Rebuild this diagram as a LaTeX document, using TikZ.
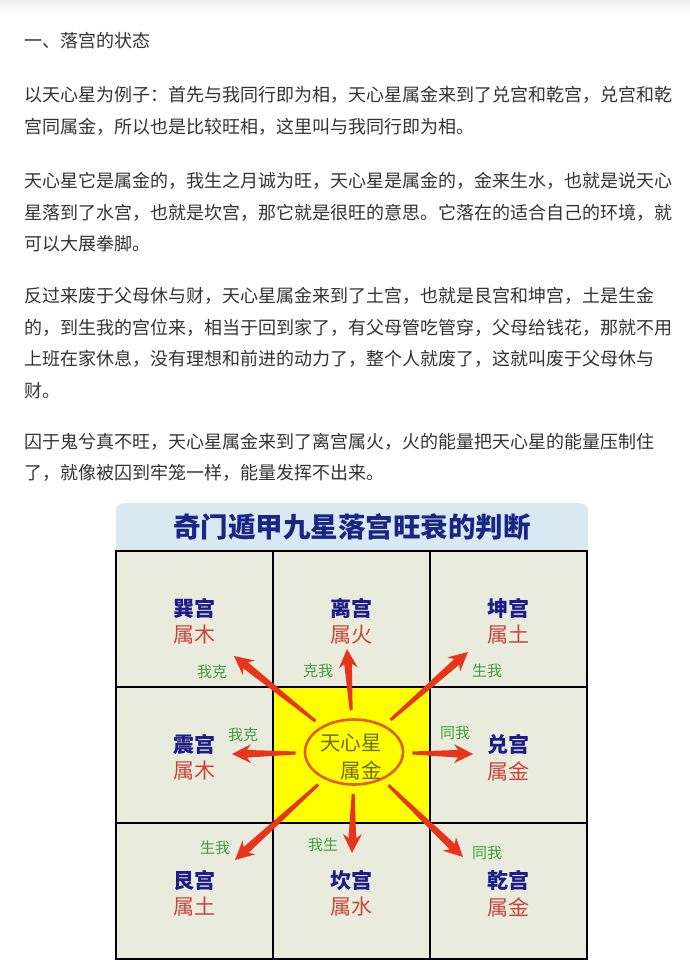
\documentclass[tikz,border=0pt]{standalone}
\usepackage{fontspec}
\newfontfamily\cjk{Noto Sans CJK SC}
\usetikzlibrary{calc,positioning,shapes.geometric}
\definecolor{txtgray}{HTML}{333333}
\definecolor{headblue}{HTML}{D9E9F2}
\definecolor{titleblue}{HTML}{1A2585}
\definecolor{cellbg}{HTML}{E9ECDC}
\definecolor{zhongyellow}{HTML}{FFFF00}
\definecolor{gongblue}{HTML}{1C1C8A}
\definecolor{shured}{HTML}{C8443A}
\definecolor{relgreen}{HTML}{3F9F3F}
\definecolor{qired}{HTML}{E8341C}
\definecolor{ringorange}{HTML}{E0600A}
\definecolor{starolive}{HTML}{6E6A10}

% freccia rastremata dal nodo #1 alla punta #2
\newcommand\qiarrow[2]{%
  \path (#1) -- (#2) coordinate[pos=0] (qa);
  \coordinate (qs) at ($(qa)!8pt!(#2)$);
  \coordinate (qb) at ($(#2)!19pt!(qs)$);
  \coordinate (qc) at ($(#2)!15pt!(qs)$);
  \fill[qired] ($(qs)!1.5pt!90:(#2)$) -- ($(qc)!3.8pt!90:(#2)$) -- ($(qb)!9.5pt!90:(#2)$)
    -- (#2) -- ($(qb)!9.5pt!-90:(#2)$) -- ($(qc)!3.8pt!-90:(#2)$) -- ($(qs)!1.5pt!-90:(#2)$) -- cycle;
}

\begin{document}
\begin{tikzpicture}[x=1pt, y=-1pt,
    body/.style = {anchor=west, inner sep=0, align=left, text=txtgray,
                   font=\cjk\fontsize{18pt}{31.4pt}\selectfont},
    cell/.style = {draw=black, line width=2pt, fill=cellbg, inner sep=0, outer sep=0,
                   minimum width=157pt, minimum height=136pt},
    gong/.style = {inner sep=0, text=gongblue, font=\cjk\bfseries\fontsize{21pt}{21pt}\selectfont},
    shu/.style = {inner sep=0, text=shured, font=\cjk\fontsize{21pt}{21pt}\selectfont},
    rel/.style = {inner sep=0, text=relgreen, font=\cjk\fontsize{15pt}{15pt}\selectfont}]
  \useasboundingbox (0,0) rectangle (690,974);
  \shade[top color=black!7, bottom color=white] (0,0) rectangle (690,14);

  % Testo
  \node[body] (h1) at (24,41) {一、落宫的状态};
  \node[body] (p1) at (24,111) {以天心星为例子：首先与我同行即为相，天心星属金来到了兑宫和乾宫，兑宫和乾\\
    宫同属金，所以也是比较旺相，这里叫与我同行即为相。};
  \node[body] (p2) at (24,212.5) {天心星它是属金的，我生之月诚为旺，天心星是属金的，金来生水，也就是说天心\\
    星落到了水宫，也就是坎宫，那它就是很旺的意思。它落在的适合自己的环境，就\\
    可以大展拳脚。};
  \node[body] (p3) at (24,343) {反过来废于父母休与财，天心星属金来到了土宫，也就是艮宫和坤宫，土是生金\\
    的，到生我的宫位来，相当于回到家了，有父母管吃管穿，父母给钱花，那就不用\\
    上班在家休息，没有理想和前进的动力了，整个人就废了，这就叫废于父母休与\\
    财。};
  \node[body] (p4) at (24,457.5) {囚于鬼兮真不旺，天心星属金来到了离宫属火，火的能量把天心星的能量压制住\\
    了，就像被囚到牢笼一样，能量发挥不出来。};

  % Titolo
  \fill[headblue] (116,560) [rounded corners=8pt] -- (116,503) -- (588,503) [sharp corners] -- (588,560) -- cycle;
  \node[text=titleblue, font=\cjk\bfseries\fontsize{27.5pt}{27.5pt}\selectfont] (title) at (352,527) {奇门遁甲九星落宫旺衰的判断};

  % Griglia
  \node[cell] (xun) at (194.5,619) {};
  \node[cell] (li) [right=0pt of xun] {};
  \node[cell] (kun) [right=0pt of li] {};
  \node[cell] (zhen) [below=0pt of xun] {};
  \node[cell, fill=zhongyellow] (zhong) [right=0pt of zhen] {};
  \node[cell] (dui) [right=0pt of zhong] {};
  \node[cell] (gen) [below=0pt of zhen] {};
  \node[cell] (kan) [right=0pt of gen] {};
  \node[cell] (qian) [right=0pt of kan] {};

  % Nomi dei palazzi
  \foreach \c/\g/\s in {xun/巽宫/属木, li/离宫/属火, kun/坤宫/属土, zhen/震宫/属木,
                        dui/兑宫/属金, gen/艮宫/属土, kan/坎宫/属水, qian/乾宫/属金} {
    \node[gong] (\c-g) at ($(\c.center)+(0,-11)$) {\g};
    \node[shu] (\c-s) at ($(\c.center)+(0,16)$) {\s};
  }

  % Centro
  \node[ellipse, draw=ringorange, line width=2.6pt, minimum width=98pt, minimum height=65pt] (star) at (354,752) {};
  \node[inner sep=0, align=right, text=starolive, font=\cjk\fontsize{20.5pt}{28pt}\selectfont] (star-t) at (351,757) {天心星\\属金};

  % Relazioni
  \node[rel] (xun-r) at (212,672) {我克};
  \node[rel] (li-r) at (318,671) {克我};
  \node[rel] (kun-r) at (487,671) {生我};
  \node[rel] (zhen-r) at (243,735) {我克};
  \node[rel] (dui-r) at (455,733) {同我};
  \node[rel] (gen-r) at (215,848) {生我};
  \node[rel] (kan-r) at (323,845) {我生};
  \node[rel] (qian-r) at (487,853) {同我};

  % Frecce
  \coordinate (xun-a) at (234,656);
  \coordinate (li-a) at (347,649);
  \coordinate (kun-a) at (468,652);
  \coordinate (zhen-a) at (232,754);
  \coordinate (dui-a) at (473,754);
  \coordinate (gen-a) at (235,860);
  \coordinate (kan-a) at (352,853);
  \coordinate (qian-a) at (463,857);
  \foreach \c in {xun,li,kun,zhen,dui,gen,kan,qian}
    \qiarrow{star}{\c-a};
\end{tikzpicture}
\end{document}
